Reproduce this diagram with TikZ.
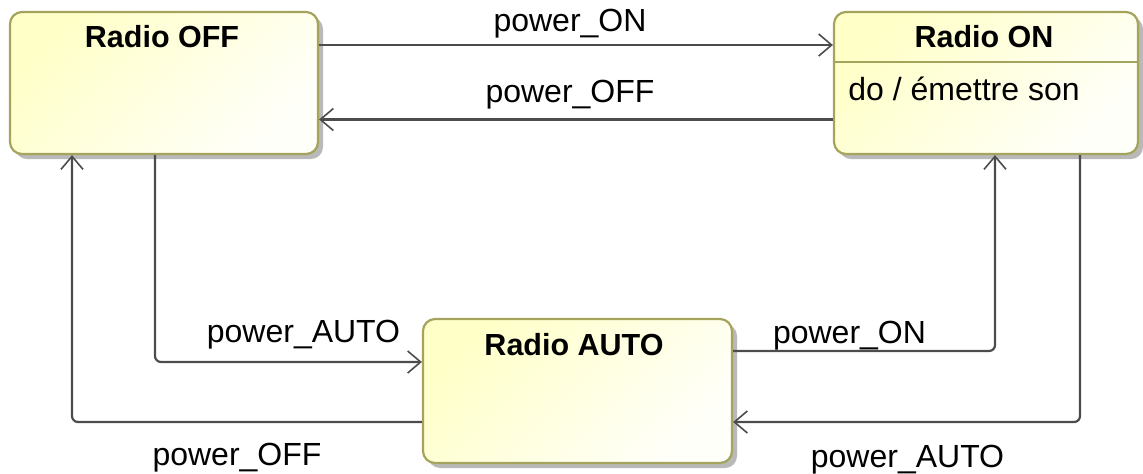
\documentclass[tikz,border=0pt]{standalone}
\usepackage{fontspec}
\setmainfont{Liberation Sans}
\usetikzlibrary{arrows.meta,shadows}
\definecolor{stY}{HTML}{FFFFC8}
\definecolor{stW}{HTML}{FFFFFA}
\definecolor{stBorder}{HTML}{A4A45C}
\definecolor{lineC}{HTML}{4C4C4C}
\tikzset{
  statebox/.style={draw=stBorder, line width=1.1pt, rounded corners=6pt, inner sep=0pt,
    top color=stY, bottom color=stW, shading angle=45,
    drop shadow={shadow xshift=2.5pt, shadow yshift=-2.5pt, opacity=0.5, fill=black!55}},
  title/.style={font=\fontsize{15.25}{18}\selectfont\bfseries, inner sep=0pt, anchor=base},
  lbl/.style={font=\fontsize{16}{19}\selectfont, inner sep=0pt, anchor=base},
  trans/.style={draw=lineC, line width=1.1pt, rounded corners=3pt,
    -{Straight Barb[length=6.5pt,width=11pt,line width=0.8pt]}},
}
\begin{document}
\begin{tikzpicture}[x=0.5pt,y=-0.5pt]
\useasboundingbox (0,0) rectangle (1143,473);
% states
\node[statebox, minimum width=154pt, minimum height=71pt] (off) at (164,83) {};
\node[statebox, minimum width=152pt, minimum height=71pt] (on) at (986,83) {};
\node[statebox, minimum width=154.5pt, minimum height=72pt] (auto) at (577.5,391) {};
\node[title] (offT) at (162,47) {Radio OFF};
\node[title] (onT) at (984,47) {Radio ON};
\node[title] (autoT) at (574,355) {Radio AUTO};
\draw[stBorder, line width=1.1pt] ([yshift=10.5pt]on.west) -- ([yshift=10.5pt]on.east);
\node[lbl, anchor=base west] (onDo) at (848,100) {do / émettre son};
% transitions
\draw[trans] ([yshift=19pt]off.east) -- ([yshift=19pt]on.west);
\draw[trans] ([yshift=-18.25pt]on.west) -- ([yshift=-18.25pt]off.east);
\draw[trans] ([xshift=-4.5pt]off.south) |- ([yshift=14.5pt]auto.west);
\draw[trans] ([yshift=-15.5pt]auto.west) -| ([xshift=-46pt]off.south);
\draw[trans] ([yshift=20pt]auto.east) -| ([xshift=4.5pt]on.south);
\draw[trans] ([xshift=47pt]on.south) |- ([yshift=-15.5pt]auto.east);
% labels
\node[lbl] (l1) at (570,31) {power\_ON};
\node[lbl] (l2) at (570,102) {power\_OFF};
\node[lbl] (l3) at (303.5,342) {power\_AUTO};
\node[lbl] (l4) at (237,465) {power\_OFF};
\node[lbl] (l5) at (849.5,343) {power\_ON};
\node[lbl] (l6) at (907.5,467) {power\_AUTO};
\end{tikzpicture}
\end{document}
